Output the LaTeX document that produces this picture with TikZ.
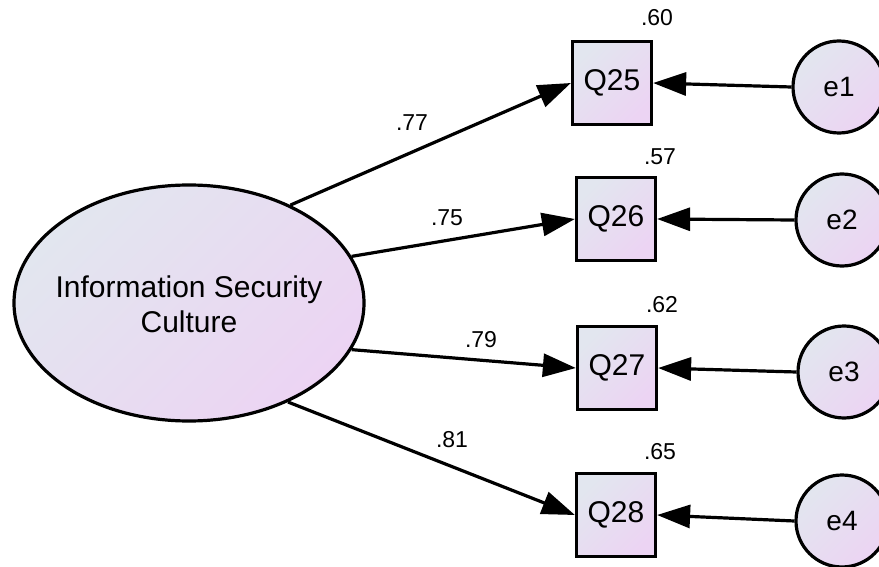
\documentclass[tikz,border=0pt]{standalone}
\usepackage{fontspec}
\setmainfont{Liberation Sans}
\usetikzlibrary{shapes.geometric,arrows.meta}
\definecolor{shadeA}{RGB}{226,230,239}
\definecolor{shadeB}{RGB}{236,212,243}
\begin{document}
\begin{tikzpicture}[x=1pt,y=-1pt,
  fillgrad/.style={top color=shadeA,bottom color=shadeB,shading angle=45},
  latent/.style={ellipse,draw,line width=3.2pt,fillgrad,minimum width=350pt,
    minimum height=236pt,inner sep=0pt},
  latentlabel/.style={align=center,inner sep=0pt,
    font=\fontsize{30}{35}\selectfont},
  observed/.style={rectangle,draw,line width=3.2pt,fillgrad,minimum width=79pt,
    minimum height=83pt,inner sep=0pt,font=\fontsize{30}{34}\selectfont},
  errvar/.style={circle,draw,line width=3.2pt,fillgrad,minimum size=92pt,
    inner sep=0pt,font=\fontsize{28}{34}\selectfont},
  regpath/.style={line width=3.2pt,-{Triangle[length=33pt,width=23pt]}},
  coef/.style={font=\fontsize{23}{27}\selectfont,inner sep=0pt},
]
\useasboundingbox (0,0) rectangle (879,567);

% latent factor
\node[latent] (isc) at (189,303) {};
\node[latentlabel] (isctext) at (189,304) {Information Security\\Culture};

% indicators
\node[observed] (q25) at (612,83) {Q25};
\node[observed] (q26) at (616,219) {Q26};
\node[observed] (q27) at (617,368) {Q27};
\node[observed] (q28) at (616,515) {Q28};

% error terms
\node[errvar] (e1) at (839,87) {e1};
\node[errvar] (e2) at (842,220) {e2};
\node[errvar] (e3) at (844,372) {e3};
\node[errvar] (e4) at (842,521) {e4};

% loadings
\draw[regpath] (isc.44) -- (q25.west);
\draw[regpath] (isc.16) -- (q26.west);
\draw[regpath] (isc.-16) -- (q27.west);
\draw[regpath] (isc.-45) -- (q28.west);

% error paths
\draw[regpath] (e1.west) -- (q25.east);
\draw[regpath] (e2.west) -- (q26.east);
\draw[regpath] (e3.west) -- (q27.east);
\draw[regpath] (e4.west) -- (q28.east);

% standardized loadings
\node[coef] (l25) at (412,123) {.77};
\node[coef] (l26) at (447,218) {.75};
\node[coef] (l27) at (481,340) {.79};
\node[coef] (l28) at (452,440) {.81};

% squared multiple correlations
\node[coef] (r25) at (657,18) {.60};
\node[coef] (r26) at (660,157) {.57};
\node[coef] (r27) at (662,305) {.62};
\node[coef] (r28) at (660,452) {.65};
\end{tikzpicture}
\end{document}
